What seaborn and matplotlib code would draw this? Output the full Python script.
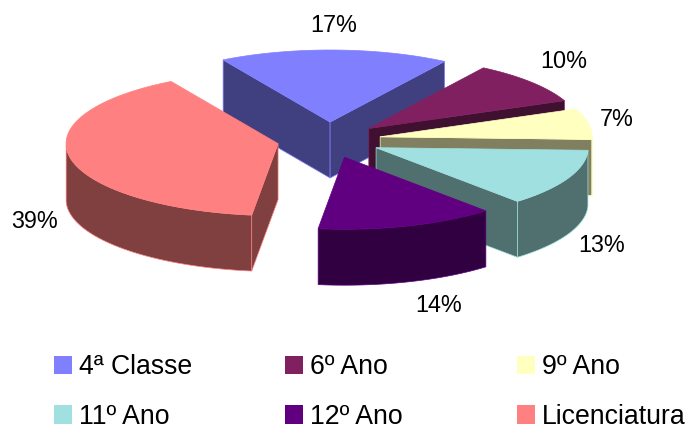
import numpy as np
import matplotlib
matplotlib.use("Agg")
import matplotlib.pyplot as plt
from matplotlib.patches import Patch
import seaborn as sns

# Chart data (printed labels, plus shares)
categories = ["4ª Classe", "6º Ano", "9º Ano", "11º Ano", "12º Ano", "Licenciatura"]
percent_labels = [17, 10, 7, 13, 14, 39]
shares = [17.5, 9.6, 6.9, 12.8, 13.6, 39.6]
hex_colors = ["#8080FF", "#802060", "#FFFFC0", "#A0E0E0", "#600080", "#FF8080"]

# Shape of the tilted pie, in pixels
cx, cy = 329, 140
rx, ry = 212, 72
explode_x, explode_y = 52, 18
depth = 56
start = -30.3

# Where the percent labels go
label_x = [334, 564, 617, 602, 439, 35]
label_y = [26, 62, 119, 245, 305, 221]

sns.set_theme(style="white")
plt.rcParams["font.family"] = ["Liberation Sans", "DejaVu Sans"]
palette = sns.color_palette(hex_colors)

fig = plt.figure(figsize=(6.88, 4.30), dpi=100)
ax = fig.add_axes([0, 0, 1, 1])
ax.set_xlim(0, 688)
ax.set_ylim(430, 0)
ax.set_axis_off()

edges = start + np.cumsum([0] + shares) * 3.6

for i, color in enumerate(palette):
    a0, a1 = edges[i], edges[i + 1]
    mid = np.radians((a0 + a1) / 2)
    # apex of the slice after pulling it out along its middle angle
    x0 = cx + explode_x * np.sin(mid)
    y0 = cy - explode_y * np.cos(mid)
    theta = np.radians(np.linspace(a0, a1, 80))
    arc_x = x0 + rx * np.sin(theta)
    arc_y = y0 - ry * np.cos(theta)
    dark = tuple(c * 0.5 for c in color)

    # straight walls, only the ones facing us
    walls = []
    if -np.sin(theta[0]) > 0:
        walls.append(0)
    if np.sin(theta[-1]) > 0:
        walls.append(-1)
    for j in walls:
        ax.fill([x0, arc_x[j], arc_x[j], x0],
                [y0, arc_y[j], arc_y[j] + depth, y0 + depth],
                facecolor=dark, edgecolor=color, linewidth=0.5)

    # outer wall, only the part facing us
    front = np.cos(theta) <= 0
    if front.any():
        fx, fy = arc_x[front], arc_y[front]
        ax.fill(np.r_[fx, fx[::-1]], np.r_[fy, fy[::-1] + depth],
                facecolor=dark, edgecolor=color, linewidth=0.5)

    # top face
    ax.fill(np.r_[x0, arc_x], np.r_[y0, arc_y],
            facecolor=color, edgecolor=color, linewidth=0.5)

for x, y, p in zip(label_x, label_y, percent_labels):
    ax.text(x, y, f"{p}%", ha="center", va="center", fontsize=16.8, color="black")

# One legend per column so the columns sit at even spacing
handles = [Patch(facecolor=c, edgecolor="none", label=n) for c, n in zip(palette, categories)]
for col, lx in enumerate([54, 285, 517]):
    fig.legend(handles=handles[col::3], loc="upper left",
               bbox_to_anchor=(lx / 688, 1 - 354.5 / 430), frameon=False,
               fontsize=19.2, borderpad=0, borderaxespad=0,
               handlelength=0.68, handleheight=0.68, handletextpad=0.27,
               labelspacing=0.88, labelcolor="black")

fig.savefig("out.png", dpi=100)
